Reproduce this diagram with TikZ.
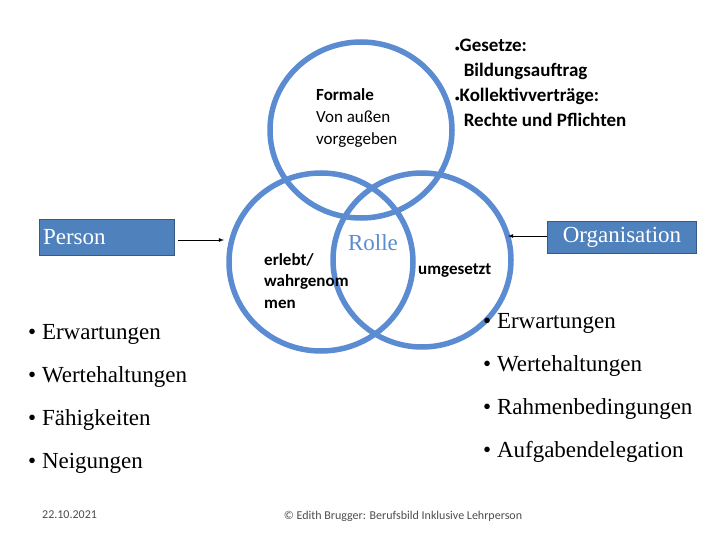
\documentclass[tikz,border=0pt]{standalone}
\usepackage{fontspec}
\setmainfont{Liberation Serif}
\newfontfamily\calibri{Carlito}
\definecolor{ring}{HTML}{5B8BD0}
\definecolor{boxfill}{HTML}{4F81BD}
\tikzset{
  ring/.style={draw=ring,line width=5.5pt},
  party/.style={fill=boxfill,draw=boxfill!70!black,text=white,font=\fontsize{23}{24}\selectfont,inner sep=2pt},
  note/.style={font=\calibri\fontsize{17}{22}\selectfont,align=left,anchor=north west,inner sep=0pt},
  item/.style={font=\fontsize{23}{24}\selectfont,anchor=west,inner sep=0pt},
  foot/.style={font=\calibri\fontsize{12}{12}\selectfont,text=black!70,inner sep=0pt},
}
\begin{document}
\begin{tikzpicture}[x=1pt,y=-1pt]
  \useasboundingbox (0,0) rectangle (720,540);
  % the three role circles
  \draw [ring] (361,130) ellipse [x radius=91,y radius=88];
  \draw [ring] (321,262) ellipse [x radius=92,y radius=89];
  \draw [ring] (422,260) ellipse [x radius=89,y radius=87];
  \node [font=\fontsize{23}{24}\selectfont,text=ring] (rolle) at (373,243) {Rolle};
  \node [note] (formale) at (316,88) {\textbf{Formale}\\Von außen\\vorgegeben};
  \node [note,font=\calibri\bfseries\fontsize{17}{21.5}\selectfont] (erlebt) at (264,253) {erlebt/\\wahrgenom\\men};
  \node [note,font=\calibri\bfseries\fontsize{17}{20}\selectfont] (umgesetzt) at (418,264) {umgesetzt};
  \node [note,font=\calibri\bfseries\fontsize{19}{25}\selectfont] (gesetze) at (455,39)
    {{\small\textbullet}Gesetze:\\\ \ Bildungsauftrag\\{\small\textbullet}Kollektivverträge:\\\ \ Rechte und Pflichten};
  % person and organisation
  \node [party,minimum width=135,minimum height=36,text width=128,align=left] (person) at (107,237) {Person};
  \node [party,minimum width=149,minimum height=32] (orga) at (622,237) {Organisation};
  \coordinate (pin) at (224,240);
  \coordinate (oin) at (508,236);
  \draw [-latex,thick] (person.east |- pin) ++(3,0) -- (pin);
  \draw [-latex,thick] (orga.west |- oin) -- (oin);
  % lists
  \foreach \t [count=\i] in {Erwartungen,Wertehaltungen,Fähigkeiten,Neigungen}
    \node [item] (l\i) at (28,334+43*\i-43) {\textbullet\ \t};
  \foreach \t [count=\i] in {Erwartungen,Wertehaltungen,Rahmenbedingungen,Aufgabendelegation}
    \node [item] (r\i) at (483,323+43*\i-43) {\textbullet\ \t};
  \node [foot,anchor=west] (date) at (42,515) {22.10.2021};
  \node [foot] (credit) at (403,516) {© Edith Brugger: Berufsbild Inklusive Lehrperson};
\end{tikzpicture}
\end{document}
